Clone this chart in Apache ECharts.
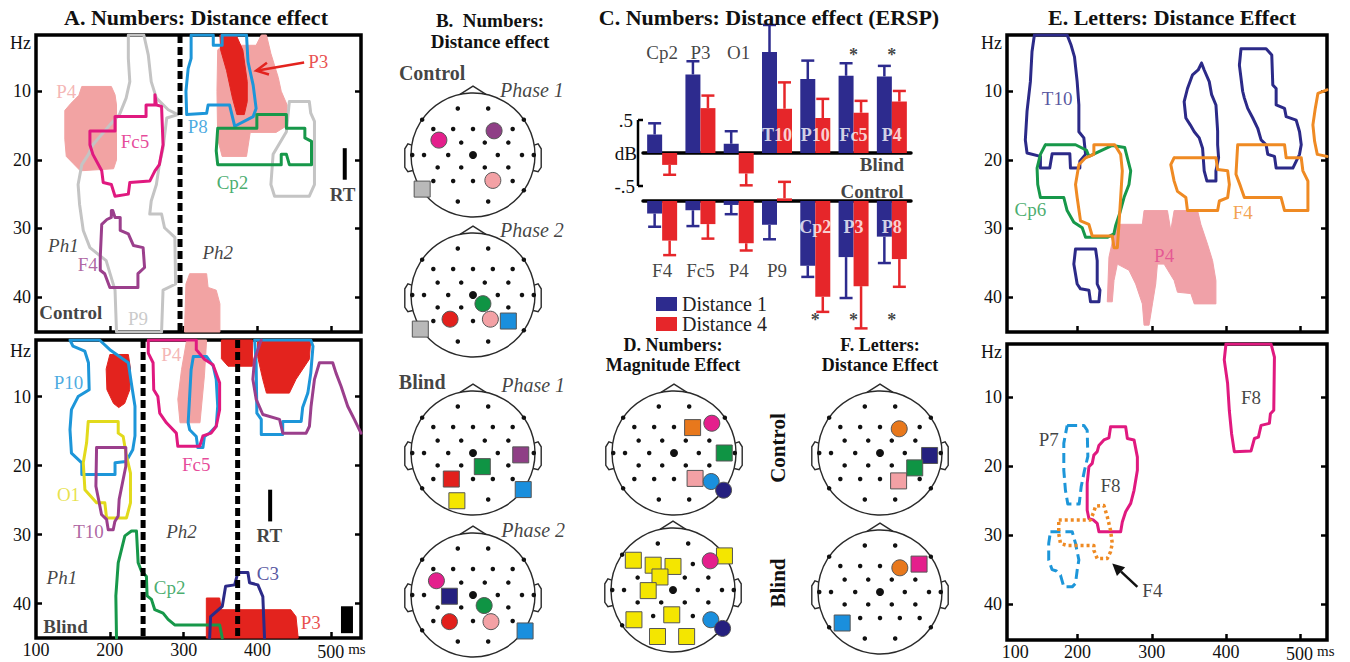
<!DOCTYPE html>
<html><head><meta charset="utf-8">
<script src="https://cdn.jsdelivr.net/npm/echarts@6.0.0/dist/echarts.min.js"></script>
<style>html,body{margin:0;padding:0;background:#fff;}#c{width:1350px;height:662px;}</style>
</head><body><div id="c"></div>
<script>
// ================= DATA =================
// axis ticks / labels
const HZ_TICKS = [10, 20, 30, 40];
const X_TICKS = [200, 300, 400, 500];
const A_X_LABEL_VALUES = [100, 200, 300, 400, 500];
const E_X_LABEL_VALUES = [116, 200, 300, 400, 500];
const X_LABEL_TEXT = ['100', '200', '300', '400', '500'];

// ---- Panel A, Control (ms, Hz) ----
const A1_PHASE_LINES = [295];
const A1_RT = [[518, 18.3], [518, 22.9]];
const A1_P4_FILL = [
  [[162,9.3],[202,9.3],[207,10.5],[209,12],[209,20],[205,21.3],[160,21.6],[150,20.5],[141,19.5],[139,17],[139,12.8],[147,11.8],[158,10.6]],
  [[346,4],[352,3.3],[398,3.3],[405,1.8],[412,1.8],[418,4.5],[428,8],[432,10],[440,12],[440,15],[425,16],[390,16],[385,19.5],[352,19.5],[346,17],[345,10]],
  [[301,45.1],[303,38.1],[308,36.6],[331,36.6],[333,38.6],[344,39.0],[349,41],[349,45.1]]
];
const A1_P3_FILL = [[[349,1.8],[371,1.8],[380,4],[386,8.6],[386,11.5],[382,13.4],[372,13.4],[366,11],[358,7],[350,4]]];
const A1_P9 = [
  [[225,1.8],[246,1.8],[252,4.7],[256,8.6],[263,11.0],[279,12.7],[292,13.4],[277,13.9],[272,18.3],[267,20.7],[263,23.6],[256,26.0],[254,27.9],[270,27.9],[274,29.9],[288,31.3],[289,38.1],[272,39.0],[270,45.1],[209,45.1],[207,39.0],[195,34.7],[173,32.8],[164,30.3],[159,26.5],[157,23.6],[162,20.7],[171,19.2],[177,17.8],[200,14.9],[213,13.4],[222,11.0],[227,8.6],[225,5.2]],
  [[443,11.5],[470,11.5],[472,13.2],[477,14.4],[477,23.6],[470,25.3],[423,25.3],[418,23.6],[421,19.2],[439,15.9]]
];
const A1_FC5 = [[[207,13.7],[249,13.7],[249,12],[261,12],[261,10.5],[263,12],[270,12.2],[272,17.8],[267,20.7],[261,21.6],[254,23.1],[227,23.3],[225,25],[207,25.3],[202,23.6],[191,23.3],[189,21.6],[177,19.2],[173,17.8],[173,15.8],[207,15.8]]];
const A1_F4 = [[[202,27.4],[204,27.4],[207,28.4],[214,28.4],[214,30.3],[225,30.8],[232,32.5],[245,32.8],[247,35.7],[238,36.6],[238,38.6],[200,38.6],[193,36.6],[187,36.1],[187,34.2],[189,29.4],[196,28.7],[202,28.4]]];
const A1_P8 = [[[310,1.8],[340,1.8],[340,3.3],[352,3.3],[352,1.8],[385,1.8],[387,5.7],[394,9.1],[398,12.5],[394,13.7],[369,15.1],[362,12],[333,12],[331,13.2],[304,13.4],[303,10],[306,6.7],[310,5.2]]];
const A1_CP2 = [[[346,15.4],[399,15.4],[399,13.4],[439,13.4],[439,15.4],[464,15.4],[464,16.8],[473,17.3],[473,20.7],[443,20.7],[439,19.2],[432,19.2],[432,20.7],[346,20.7],[344,18.7]]];
const A1_P3_ARROW = [[463, 5.8], [398, 7.0]];
const A1_TEXT = [[141,10.0,'P4'],[234,17.3,'Fc5'],[170,35.2,'F4'],[238,43.2,'P9'],[319,15.1,'P8'],[366,23.3,'Cp2'],[482,5.7,'P3'],[137,32.5,'Ph1'],[346,33.5,'Ph2'],[147,42.2,'Control'],[515,25.0,'RT']];

// ---- Panel A, Blind ----
const A2_PHASE_LINES = [245, 373];
const A2_RT = [[417, 23.5], [417, 28.1]];
const A2_RT_BLOCK = [[521, 40.4], [521, 44.3]];
const A2_P3_FILL = [
  [[200,3.9],[225,3.9],[228,6],[227,9],[220,11],[212,11.6],[205,11],[196,9],[195,6]],
  [[351,1.8],[393,1.8],[393,5.6],[360,5.6],[351,4.5]],
  [[400,1.8],[472,1.8],[470,4.6],[452,7.5],[443,9.5],[412,9.5],[407,7.5],[400,4.2]],
  [[330.6,45],[330.6,39.2],[348.6,39.2],[351,40.9],[445,40.9],[452,41.9],[455,45]]
];
const A2_P4_FILL = [[[304,1.8],[331,1.8],[328,7.0],[322,13.8],[295,13.8],[292,10.4],[297,6.1]]];
const A2_P10 = [
  [[146,1.8],[150,2.7],[166,3.4],[171,5.1],[172,9.0],[157,10.0],[148,11.9],[146,14.8],[148,18.2],[162,19.6],[162,21.3],[207,21.3],[207,19.6],[222,19.4],[231,17.7],[234,15.7],[234,11.4],[229,8.0],[225,5.1],[200,3.2],[186,1.8]],
  [[313,4.2],[331,4.2],[340,5.6],[344,7.5],[346,11.4],[344,14.3],[335,15.3],[328,15.8],[326,17.4],[319,17.4],[317,15.8],[308,14.8],[306,13.8],[308,10.0],[310,6.1]],
  [[396,1.8],[398,5.1],[399,12.4],[405,13.3],[405,15.5],[434,15.5],[434,13.6],[459,13.6],[461,11.6],[468,9.5],[472,6.6],[475,2.7],[472,1.8]]
];
const A2_FC5 = [[[252,1.8],[252,3.7],[258.5,5.1],[259.4,9.0],[265,10.0],[267.5,12.4],[276.6,13.8],[290,15.3],[292,17.2],[321.6,17.2],[326,15.7],[337,15.3],[344,14.3],[348.6,11.9],[348.6,8.0],[339.6,5.4],[328,4.6],[317,3.2],[317,1.8]]];
const A2_O1 = [[[170.7,13.6],[211.3,13.6],[211.3,15.3],[218,15.8],[222.5,18.6],[227.9,21.1],[227.9,25.4],[222.5,27.6],[195.5,27.6],[193.2,25.4],[182,25.4],[166.2,23.5],[164,19.6],[168.5,16.7]]];
const A2_T10 = [[[182,17.4],[221.6,17.4],[221.6,20.1],[217.1,22.5],[212.6,24.9],[211.3,27.3],[206.8,28.1],[204.5,29.3],[197.8,29.3],[195.5,27.8],[188.7,27.1],[185.6,25.4],[181.1,23.0]]];
const A2_T10_OPEN = [[[404.9,1.8],[395.9,4.6],[393.6,7.5],[398.1,10.4],[407.1,12.6],[429.7,13.3],[434.2,15.3],[465.7,15.3],[470.2,14.3],[472.4,11.4],[477,7.5],[483.7,5.1],[501.7,5.1],[506.2,6.6],[513,8.5],[522,11.4],[531,13.3],[540,15.3]]];
const A2_CP2_OPEN = [[[209,45],[208.1,38.9],[211.3,34.1],[220.3,30.2],[229.3,29.5],[236,29.5],[238.3,34.1],[242.8,35.3],[249.5,36.1],[250.4,38.9],[256.3,39.4],[260.8,40.9],[272,41.4],[278.8,42.3],[287.8,43.1],[348.6,43.1],[352.2,45]]];
const A2_C3_OPEN = [[[335.1,45],[336.4,41.9],[352.2,40.4],[356.7,37.5],[368.9,37.3],[373.4,35.5],[386.9,35.5],[389.1,37.0],[400.4,37.3],[407.1,39.0],[409.4,45]]];
const A2_TEXT = [[144,8.0,'P10'],[283,3.9,'P4'],[317,19.9,'Fc5'],[144,24.2,'O1'],[171,29.5,'T10'],[281,37.7,'Cp2'],[414,35.6,'C3'],[472,42.8,'P3'],[135,36.3,'Ph1'],[297,29.5,'Ph2'],[416,30.2,'RT'],[140,43.3,'Blind']];

// ---- Panel C, ERSP (dB) ----
const C_BLIND_CATS = ['Cp2','P3','O1','T10','P10','Fc5','P4'];
const C_BLIND_D1 = [0.28, 1.19, 0.14, 1.53, 1.12, 1.17, 1.16];
const C_BLIND_D1_ERR = [0.45, 1.39, 0.33, 1.94, 1.40, 1.36, 1.32];
const C_BLIND_D4 = [-0.18, 0.68, -0.31, 0.67, 0.53, 0.61, 0.78];
const C_BLIND_D4_ERR = [-0.33, 0.87, -0.49, 1.07, 0.82, 0.79, 0.94];
const C_BLIND_NAME_AT = [1.53, 1.53, 1.53, 0.27, 0.27, 0.27, 0.27];
const C_BLIND_STAR_AT = [null, null, null, null, null, 1.48, 1.48];
const C_CTRL_CATS = ['F4','Fc5','P4','P9','Cp2','P3','P8'];
const C_CTRL_D1 = [-0.19, -0.14, -0.06, -0.36, -0.98, -0.85, -0.54];
const C_CTRL_D1_ERR = [-0.39, -0.38, -0.20, -0.58, -1.15, -1.47, -0.94];
const C_CTRL_D4 = [-0.60, -0.35, -0.64, 0.04, -1.45, -1.29, -0.88];
const C_CTRL_D4_ERR = [-0.82, -0.57, -0.75, 0.29, -1.68, -1.93, -1.30];
const C_CTRL_NAME_AT = [-1.05, -1.05, -1.05, -1.05, -0.39, -0.39, -0.39];
const C_CTRL_STAR_AT = [null, null, null, null, -1.80, -1.80, -1.80];
const C_DB_SCALE = [0.5, -0.5];
const C_BLIND_TEXT = [[5.74, -0.18, 'Blind']];
const C_CTRL_TEXT = [[5.48, 0.14, 'Control']];
const C_SERIES_NAMES = ['Distance 1', 'Distance 4'];

// ---- Panel E, Letters (ms, Hz) ----
const E1_NAVY = [
  [[141.9,1.8],[186,1.8],[191.4,3.3],[195.9,5.0],[199.5,8.6],[201.8,12.0],[201.8,15.9],[208.5,16.8],[210.8,19.2],[203.1,20.2],[203.1,21.2],[190.5,21.2],[189.6,19.1],[165.8,19.1],[162.6,21.2],[150,21.2],[150,19.5],[132,19.0],[129.7,17.1],[132,12.9],[136.5,8.6],[138.7,4.2]],
  [[367,5.9],[370.6,6.9],[377.4,8.6],[380.6,10.5],[386.4,12.0],[388.7,15.8],[388.7,17.8],[390,19.7],[386.4,21.6],[386.4,23.1],[374.3,23.1],[370.6,21.6],[368.4,18.3],[363.9,16.8],[357.2,15.9],[351.8,14.9],[345.9,13.9],[343.6,11.5],[348.1,9.6],[354.9,7.6],[362.5,6.9]],
  [[420.2,3.8],[454,3.8],[461.6,4.7],[463,9.1],[467.5,9.6],[467.5,12.0],[478.8,12.5],[481,13.7],[494.5,14.2],[499,15.9],[501.3,17.8],[499,19.2],[490,21.2],[467.5,21.2],[465.3,19.5],[456.2,19.2],[454,17.8],[447.2,17.1],[442.7,15.4],[436,13.9],[429.2,12.5],[424.7,11.0],[422.4,10.0],[418,6.2]],
  [[197.3,33.0],[224.3,33.0],[226.5,34.7],[226.5,38.1],[230.2,39.0],[228.8,40.7],[217.5,40.7],[215.3,39.0],[204,38.8],[199.5,38.1],[195,35.2]]
];
const E1_CP6 = [[[156.7,17.8],[197.3,17.8],[212.1,18.6],[215.3,19.5],[246.8,17.9],[263.5,18.2],[267.1,19.7],[271.6,21.6],[269.3,23.6],[262.6,25.5],[257.1,27.7],[251.3,29.6],[249,30.8],[240,31.3],[210.8,31.3],[206.3,29.9],[195,29.1],[186,27.4],[181.5,25.5],[150,25.5],[146.4,23.6],[145.5,21.2],[150,19.2]]];
const E1_F4 = [
  [[222,17.8],[250,17.8],[258.1,19.2],[260.3,21.6],[258.1,25.5],[255.8,29.4],[253.6,32.8],[249.1,32.8],[246.8,31.1],[219.8,31.1],[215.3,29.4],[204,28.9],[199.5,25.5],[197.3,23.6],[201.8,20.7],[210.8,19.7],[222,19.2]],
  [[330.1,19.7],[386.4,19.7],[388.7,21.4],[402.2,21.6],[404.5,23.6],[402.2,25.5],[391,26.0],[388.7,27.4],[348.1,27.4],[345.9,25.5],[334.6,24.6],[330.1,23.1],[325.6,20.7]],
  [[415.7,17.8],[478.8,17.8],[481,19.7],[501.3,19.7],[503.5,21.6],[510.3,23.1],[510.3,27.4],[478.8,27.4],[474.2,25.5],[424.7,25.5],[419.3,23.8],[413.4,22.1]]
];
const E1_F4_OPEN = [[[536,9.8],[523.8,10.3],[520.2,12.5],[517,14.9],[519.3,17.3],[522.9,19.2],[536,19.5]]];
const E1_P4_FILL = [[[251.3,29.4],[287.3,29.4],[289.6,27.4],[321.1,27.4],[325.6,30.3],[330.1,27.4],[361.7,27.4],[366.1,29.4],[375.1,32.3],[381.9,34.7],[386.4,37.6],[386.4,41.0],[357.2,41.0],[352.6,39.5],[334.6,39.3],[330.1,37.6],[316.6,35.2],[307.6,35.2],[305.3,38.1],[300.9,41.0],[296.3,44.1],[289.6,44.1],[287.3,41.0],[278.3,38.1],[269.3,36.1],[253.6,35.2],[249.1,37.6],[246.8,40.7],[240.1,40.7],[242.3,34.2],[248.2,31.3]]];
const E1_TEXT = [[172.5,11.0,'T10'],[136.5,27.2,'Cp6'],[316.6,34.0,'P4'],[422.5,27.7,'F4']];

const E2_F8 = [
  [[399.9,2.3],[460.7,2.3],[465.2,4.2],[464.3,11.9],[459.8,12.4],[458.4,13.8],[447.2,14.1],[443.6,15.8],[438.2,16.0],[433.7,17.8],[411.2,17.9],[407.5,15.3],[404.4,11.9],[402.1,8.0],[397.6,4.6]],
  [[244.5,14.3],[264.8,14.3],[267.1,16.0],[276.1,16.2],[280.6,18.7],[280.6,20.6],[276.1,23.5],[271.6,25.4],[264.8,26.6],[260.3,28.1],[258.1,29.5],[228.8,29.5],[226.5,28.3],[221.1,27.8],[215.3,27.6],[213,26.4],[213,22.5],[215.3,20.1],[219.8,19.6],[222,18.4],[226.5,17.9],[228.8,17.0],[235.5,16.2],[242.3,15.9]]
];
const E2_P7 = [
  [[186,14.1],[208.5,14.1],[213,14.8],[213.9,18.6],[209.4,20.6],[204.9,23.0],[202.2,25.5],[186.9,25.5],[183.7,23.5],[181.5,20.6],[181.5,16.7]],
  [[163.5,29.5],[192.8,29.5],[197.3,31.2],[201.8,33.6],[199.5,35.1],[197.3,37.0],[192.8,37.5],[181.5,37.5],[177,35.8],[171.6,35.2],[165.7,35.0],[161.2,33.6],[161.2,31.2]]
];
const E2_F4 = [[[174.7,27.8],[217.5,27.8],[222,26.6],[224.3,25.8],[235.5,25.7],[240,27.3],[244.5,29.3],[246.8,31.2],[244.5,32.4],[240,33.4],[226.5,33.4],[222,32.2],[222,31.5],[186,31.5],[177,31.2],[174.7,29.8]]];
const E2_F4_ARROW = [[280.6, 37.5], [246.8, 34.1]];
const E2_TEXT = [[433.7,10.0,'F8'],[244.5,22.8,'F8'],[161.2,16.2,'P7'],[300.8,38.0,'F4']];

// ---- Scalp maps (unit head, x right, y toward back) ----
const ELECTRODES = [
  [-0.245,-0.75],[0.245,-0.75],[-0.82,-0.57],[0.82,-0.57],
  [-0.64,-0.42],[-0.32,-0.42],[0,-0.42],[0.32,-0.42],[0.64,-0.42],
  [-0.57,-0.2],[-0.19,-0.2],[0.19,-0.2],[0.57,-0.2],
  [-0.98,0],[-0.79,0],[-0.4,0],[0.4,0],[0.79,0],[0.98,0],
  [-0.57,0.2],[-0.19,0.2],[0.19,0.2],[0.57,0.2],
  [-0.64,0.42],[-0.32,0.42],[0,0.42],[0.32,0.42],[0.64,0.42],
  [-0.82,0.57],[0.82,0.57],[-0.245,0.75],[0.245,0.75]
];
const VERTEX = [[0, 0]];
// [x, y, shape (s=square, c=circle), group]
const B1_MARKERS = [[-0.55,-0.24,'c','magenta'],[0.34,-0.39,'c','purple'],[0.32,0.41,'c','pink'],[-0.82,0.55,'s','gray']];
const B2_MARKERS = [[0.16,0.14,'c','green'],[-0.37,0.39,'c','red'],[0.28,0.39,'c','pink'],[0.57,0.42,'s','blue'],[-0.85,0.55,'s','gray']];
const B3_MARKERS = [[0.77,0.03,'s','purple'],[0.15,0.22,'s','green'],[-0.35,0.42,'s','red'],[-0.26,0.77,'s','yellow'],[0.81,0.59,'s','blue']];
const B4_MARKERS = [[-0.59,-0.23,'c','magenta'],[-0.38,0.02,'s','navy'],[0.18,0.17,'c','green'],[-0.38,0.43,'c','red'],[0.29,0.43,'c','pink'],[0.84,0.58,'s','blue']];
const D1_MARKERS = [[0.3,-0.41,'s','orange'],[0.61,-0.48,'c','magenta'],[0.81,0,'s','green'],[0.34,0.41,'s','pink'],[0.6,0.46,'c','blue'],[0.8,0.6,'c','navy']];
const D2_MARKERS = [[-0.64,-0.48,'s','yellow'],[-0.32,-0.4,'s','yellow'],[0,-0.38,'s','yellow'],[-0.21,-0.21,'s','yellow'],[-0.4,0.01,'s','yellow'],[-0.63,0.48,'s','yellow'],[-0.02,0.4,'s','yellow'],[-0.25,0.75,'s','yellow'],[0.22,0.75,'s','yellow'],[0.83,-0.55,'s','yellow'],[0.6,-0.47,'c','magenta'],[0.61,0.48,'c','blue'],[0.8,0.62,'c','navy']];
const F1_MARKERS = [[0.31,-0.39,'c','orange'],[0.8,0.04,'s','navy'],[0.56,0.24,'s','green'],[0.3,0.45,'s','pink']];
const F2_MARKERS = [[0.32,-0.39,'c','orange'],[0.63,-0.45,'s','magenta'],[-0.61,0.5,'s','blue']];
const B1_TEXT = [[-0.66,-1.32,'Control'],[0.95,-1.05,'Phase 1']];
const B2_TEXT = [[0.95,-1.05,'Phase 2']];
const B3_TEXT = [[-0.82,-1.15,'Blind'],[0.97,-1.1,'Phase 1']];
const B4_TEXT = [[0.97,-1.05,'Phase 2']];

// ================= STYLE / LAYOUT =================
const FONT = '"Liberation Serif","Times New Roman",serif';
const COL = {red:'#e3231e', pink:'#f2a3a3', magenta:'#e0197f', blue:'#1d96d9', green:'#17984a', purple:'#9b3f8c',
  gray:'#c4c4c4', yellow:'#e2da1c', navy:'#2c2a88', orange:'#ef8a23', ink:'#111111', epink:'#f0a1a8'};
const MARK = {magenta:'#e41f8c', purple:'#8f3f86', pink:'#f3a1a5', gray:'#b9b9b9', green:'#0f9444', red:'#e2201c',
  blue:'#1a8fdd', yellow:'#f4e600', navy:'#25207f', orange:'#e8781c'};
const BAR_BLUE = '#2d2b8e', BAR_RED = '#e6262a', BAR_W = 15;

const option = {animation:false, backgroundColor:'#ffffff', grid:[], xAxis:[], yAxis:[], series:[], graphic:[]};

function xFormatter(values) {
  return function (v) {
    const i = values.indexOf(v);
    const t = i >= 0 ? X_LABEL_TEXT[i] : String(v);
    return v === 500 ? '{p|}{n|' + t + '}{u|ms}' : '{n|' + t + '}';
  };
}
function tfPanel(s) {
  const gi = option.grid.length;
  option.grid.push({left:s.left, top:s.top, width:s.width, height:s.height, show:true, borderColor:'#000',
    borderWidth:3.5, backgroundColor:'rgba(0,0,0,0)', containLabel:false, outerBoundsMode:'none'});
  const tick = {show:true, inside:true, length:6, lineStyle:{color:'#000', width:2.5}};
  const xi = option.xAxis.length;
  option.xAxis.push({type:'value', gridIndex:gi, min:s.xmin, max:s.xmax, axisLine:{show:false}, splitLine:{show:false},
    axisTick:Object.assign({customValues:X_TICKS}, tick),
    axisLabel:{show:s.xlabels, customValues:s.xlv, formatter:xFormatter(s.xlv), margin:3,
      rich:{p:{width:20, fontSize:18}, n:{fontFamily:FONT, fontSize:18, color:'#111'},
            u:{fontFamily:FONT, fontSize:15, color:'#111', verticalAlign:'top', padding:[0,0,6,4]}}}});
  const yi = option.yAxis.length;
  option.yAxis.push({type:'value', gridIndex:gi, min:s.ymin, max:s.ymax, inverse:true, axisLine:{show:false}, splitLine:{show:false},
    axisTick:Object.assign({customValues:HZ_TICKS}, tick),
    axisLabel:{show:true, customValues:[s.hz].concat(HZ_TICKS), formatter:v => (v === s.hz ? 'Hz' : String(v)),
      fontFamily:FONT, fontSize:18, color:'#111', margin:5}});
  option.yAxis.push({type:'value', gridIndex:gi, position:'right', min:s.ymin, max:s.ymax, inverse:true,
    axisLine:{show:false}, splitLine:{show:false}, axisTick:Object.assign({customValues:HZ_TICKS}, tick), axisLabel:{show:false}});
  return {xi, yi, ymin:s.ymin, ymax:s.ymax};
}
function outlines(ax, polys, color, o) {
  o = o || {};
  polys.forEach(pts => {
    option.series.push({type:'line', xAxisIndex:ax.xi, yAxisIndex:ax.yi, data:o.open ? pts : pts.concat([pts[0]]),
      symbol:'none', showSymbol:false, silent:true, clip:true, z:o.z || 4,
      lineStyle:{color, width:o.width || 3, type:o.type || 'solid', join:'round', cap:o.cap || 'round'}});
  });
}
function fills(ax, polys, color, z) {
  polys.forEach(pts => {
    option.series.push({type:'custom', xAxisIndex:ax.xi, yAxisIndex:ax.yi, silent:true, z:z || 2, data:[pts[0]],
      renderItem:(p, api) => ({type:'polygon', shape:{points:pts.map(q => api.coord(q))},
        style:{fill:color, stroke:color, lineWidth:1}})});
  });
}
function vbar(ax, pts, width, dash) {
  option.series.push({type:'line', xAxisIndex:ax.xi, yAxisIndex:ax.yi, data:pts, symbol:'none', silent:true, z:5,
    lineStyle:{color:'#000', width, type:dash || 'solid', cap:'butt'}});
}
function phaseLines(ax, xs) {
  xs.forEach(x => vbar(ax, [[x, ax.ymin], [x, ax.ymax]], 5, [8, 4]));
}
function arrow(ax, seg, color, open) {
  option.series.push({type:'custom', xAxisIndex:ax.xi, yAxisIndex:ax.yi, silent:true, z:7,
    data:[[seg[0][0], seg[0][1], seg[1][0], seg[1][1]]],
    renderItem:(p, api) => {
      const a = api.coord([api.value(0), api.value(1)]), b = api.coord([api.value(2), api.value(3)]);
      const ang = Math.atan2(b[1] - a[1], b[0] - a[0]), L = 12, W = 6;
      const bx = b[0] - L * Math.cos(ang), by = b[1] - L * Math.sin(ang);
      const h1 = [bx + W * Math.sin(ang), by - W * Math.cos(ang)], h2 = [bx - W * Math.sin(ang), by + W * Math.cos(ang)];
      const st = {stroke:color, lineWidth:2.5, fill:'none'};
      return {type:'group', children:[
        {type:'line', shape:{x1:a[0], y1:a[1], x2:open ? b[0] : bx, y2:open ? b[1] : by}, style:st},
        open ? {type:'polyline', shape:{points:[h1, b, h2]}, style:st}
             : {type:'polygon', shape:{points:[b, h1, h2]}, style:{fill:color}}]};
    }});
}
function labelStyle(text, color, size) {
  const s = {show:true, position:'inside', color:color || COL.ink, fontFamily:FONT, fontSize:size || 19, fontWeight:'normal', fontStyle:'normal'};
  if (/^Ph/.test(text) || /^Phase/.test(text)) { s.fontStyle = 'italic'; s.color = COL.ink; }
  if (text === 'Control' || text === 'Blind' || text === 'RT') { s.fontWeight = 'bold'; s.color = COL.ink; }
  return s;
}
function texts(ax, items, colors, size) {
  option.series.push({type:'scatter', xAxisIndex:ax.xi, yAxisIndex:ax.yi, silent:true, z:8, symbol:'circle', symbolSize:1,
    itemStyle:{color:'rgba(0,0,0,0)'}, clip:false,
    data:items.map(it => ({value:[it[0], it[1]], name:it[2], label:labelStyle(it[2], colors[it[2]], size)})),
    label:{show:true, formatter:p => p.name}});
}

// ---------- Panel A ----------
const A1 = tfPanel({left:36, top:35, width:325, height:297, xmin:100, xmax:540, ymin:1.8, ymax:45.1, xlabels:false, xlv:A_X_LABEL_VALUES, hz:3.0});
fills(A1, A1_P4_FILL, COL.pink, 1);
fills(A1, A1_P3_FILL, COL.red, 2);
outlines(A1, A1_P9, COL.gray, {z:3});
outlines(A1, A1_FC5, COL.magenta);
outlines(A1, A1_F4, COL.purple);
outlines(A1, A1_P8, COL.blue);
outlines(A1, A1_CP2, COL.green);
phaseLines(A1, A1_PHASE_LINES);
vbar(A1, A1_RT, 4);
arrow(A1, A1_P3_ARROW, COL.red, true);
texts(A1, A1_TEXT, {P4:COL.pink, Fc5:COL.magenta, F4:COL.purple, P9:'#bdbdbd', P8:COL.blue, Cp2:COL.green, P3:COL.red});

const A2 = tfPanel({left:36, top:340, width:325, height:298, xmin:100, xmax:540, ymin:1.8, ymax:45.0, xlabels:true, xlv:A_X_LABEL_VALUES, hz:3.4});
fills(A2, A2_P3_FILL, COL.red, 1);
fills(A2, A2_P4_FILL, COL.pink, 2);
outlines(A2, A2_P10, COL.blue);
outlines(A2, A2_FC5, COL.magenta);
outlines(A2, A2_O1, COL.yellow);
outlines(A2, A2_T10, COL.purple);
outlines(A2, A2_T10_OPEN, COL.purple, {open:true});
outlines(A2, A2_CP2_OPEN, COL.green, {open:true});
outlines(A2, A2_C3_OPEN, COL.navy, {open:true});
phaseLines(A2, A2_PHASE_LINES);
vbar(A2, A2_RT, 4);
vbar(A2, A2_RT_BLOCK, 12);
texts(A2, A2_TEXT, {P10:COL.blue, P4:COL.pink, Fc5:COL.magenta, O1:COL.yellow, T10:COL.purple, Cp2:COL.green, C3:COL.navy, P3:COL.red});

// ---------- Panel E ----------
const E1 = tfPanel({left:1007, top:35, width:320, height:297, xmin:105, xmax:536, ymin:1.8, ymax:45.1, xlabels:false, xlv:E_X_LABEL_VALUES, hz:3.0});
fills(E1, E1_P4_FILL, COL.epink, 1);
outlines(E1, E1_NAVY, COL.navy);
outlines(E1, E1_CP6, COL.green);
outlines(E1, E1_F4, COL.orange);
outlines(E1, E1_F4_OPEN, COL.orange, {open:true});
texts(E1, E1_TEXT, {T10:COL.navy, Cp6:COL.green, P4:'#e2468f', F4:COL.orange});

const E2 = tfPanel({left:1007, top:344, width:320, height:296, xmin:105, xmax:536, ymin:2.3, ymax:45.2, xlabels:true, xlv:E_X_LABEL_VALUES, hz:3.4});
outlines(E2, E2_F8, COL.magenta);
outlines(E2, E2_P7, COL.blue, {type:[10, 5], cap:'butt'});
outlines(E2, E2_F4, COL.orange, {type:[3, 3], cap:'butt', width:3.5});
arrow(E2, E2_F4_ARROW, COL.ink, false);
texts(E2, E2_TEXT, {});

// ---------- Panel C ----------
function cPanel(top, height, ymin, ymax, cats, d1, d1e, d4, d4e, nameAt, starAt, extraText) {
  const gi = option.grid.length;
  option.grid.push({left:643, top, width:268, height, show:false, containLabel:false, outerBoundsMode:'none'});
  const xc = option.xAxis.length;
  option.xAxis.push({type:'category', gridIndex:gi, data:cats, axisLine:{show:true, onZero:true, lineStyle:{color:'#000', width:3.5}},
    axisTick:{show:false}, axisLabel:{show:false}, splitLine:{show:false}});
  const xv = option.xAxis.length;
  option.xAxis.push({type:'value', gridIndex:gi, min:-0.5, max:6.5, show:false});
  const yi = option.yAxis.length;
  option.yAxis.push({type:'value', gridIndex:gi, min:ymin, max:ymax, axisLine:{show:false}, axisTick:{show:false},
    axisLabel:{show:false}, splitLine:{show:false}});
  option.series.push({type:'bar', name:C_SERIES_NAMES[0], xAxisIndex:xc, yAxisIndex:yi, data:d1, barWidth:BAR_W, barGap:'0%', z:3, silent:true, itemStyle:{color:BAR_BLUE}});
  option.series.push({type:'bar', name:C_SERIES_NAMES[1], xAxisIndex:xc, yAxisIndex:yi, data:d4, barWidth:BAR_W, barGap:'0%', z:3, silent:true, itemStyle:{color:BAR_RED}});
  [[d1, d1e, BAR_BLUE, -1], [d4, d4e, BAR_RED, 1]].forEach(([v, e, c, side]) => {
    option.series.push({type:'custom', xAxisIndex:xv, yAxisIndex:yi, silent:true, z:2,
      data:v.map((val, i) => [i, val, e[i]]),
      renderItem:(p, api) => {
        const a = api.coord([api.value(0), api.value(1)]), b = api.coord([api.value(0), api.value(2)]);
        const x = a[0] + side * BAR_W / 2, st = {stroke:c, lineWidth:2.5};
        return {type:'group', children:[
          {type:'line', shape:{x1:x, y1:a[1], x2:x, y2:b[1]}, style:st},
          {type:'line', shape:{x1:x - 6.5, y1:b[1], x2:x + 6.5, y2:b[1]}, style:st}]};
      }});
  });
  const items = cats.map((c, i) => {
    const inside = Math.abs(nameAt[i]) < Math.abs(d1[i]) && Math.sign(nameAt[i]) === Math.sign(d1[i]);
    return {value:[i, nameAt[i]], name:c, label:{show:true, position:'inside', color:inside ? '#fff' : COL.ink, fontFamily:FONT,
      fontSize:inside ? 18 : 19, fontWeight:inside ? 'bold' : 'normal'}};
  });
  starAt.forEach((s, i) => { if (s !== null) items.push({value:[i, s], name:'*', label:{show:true, position:'inside', color:COL.ink, fontFamily:FONT, fontSize:18, fontWeight:'bold'}}); });
  extraText.forEach(t => items.push({value:[t[0], t[1]], name:t[2], label:{show:true, position:'inside', color:COL.ink, fontFamily:FONT, fontSize:19, fontWeight:'bold'}}));
  option.series.push({type:'scatter', xAxisIndex:xv, yAxisIndex:yi, silent:true, z:8, symbolSize:1, clip:false,
    itemStyle:{color:'rgba(0,0,0,0)'}, data:items, label:{show:true, formatter:p => p.name}});
  return {xv, yi};
}
const CB = cPanel(21, 178.2, -0.7, 2.0, C_BLIND_CATS, C_BLIND_D1, C_BLIND_D1_ERR, C_BLIND_D4, C_BLIND_D4_ERR, C_BLIND_NAME_AT, C_BLIND_STAR_AT, C_BLIND_TEXT);
cPanel(168, 165, -2.0, 0.5, C_CTRL_CATS, C_CTRL_D1, C_CTRL_D1_ERR, C_CTRL_D4, C_CTRL_D4_ERR, C_CTRL_NAME_AT, C_CTRL_STAR_AT, C_CTRL_TEXT);
// dB scale bar
option.series.push({type:'custom', xAxisIndex:CB.xv, yAxisIndex:CB.yi, silent:true, z:6, data:[[0, 0]],
  renderItem:(p, api) => {
    const x = api.coord([-0.5, 0])[0] - 5;
    const yT = api.coord([0, C_DB_SCALE[0]])[1], y0 = api.coord([0, 0])[1], yB = api.coord([0, C_DB_SCALE[1]])[1];
    const ln = {stroke:'#000', lineWidth:2.5};
    const tf = t => ({text:t, font:'19px ' + FONT, fill:'#111', align:'right', verticalAlign:'middle', textAlign:'right', textVerticalAlign:'middle'});
    return {type:'group', children:[
      {type:'line', shape:{x1:x, y1:yT, x2:x, y2:yB}, style:ln},
      {type:'line', shape:{x1:x, y1:yT, x2:x + 5, y2:yT}, style:ln},
      {type:'line', shape:{x1:x, y1:yB, x2:x + 5, y2:yB}, style:ln},
      {type:'text', x:x - 5, y:yT, style:tf('.5')},
      {type:'text', x:x - 1, y:y0, style:tf('dB')},
      {type:'text', x:x - 3, y:yB, style:tf('-.5')}]};
  }});
option.legend = {data:C_SERIES_NAMES, orient:'vertical', left:651, top:289, itemWidth:21, itemHeight:14, itemGap:0,
  icon:'rect', selectedMode:false, textStyle:{fontFamily:FONT, fontSize:20, color:'#222', lineHeight:20}};

// ---------- Scalp maps ----------
function head(cx, cy, markers, txt) {
  const R = 62, S = 1.4;
  const gi = option.grid.length;
  option.grid.push({left:cx - S * R, top:cy - S * R, width:2 * S * R, height:2 * S * R, show:false, containLabel:false, outerBoundsMode:'none'});
  const xi = option.xAxis.length;
  option.xAxis.push({type:'value', gridIndex:gi, min:-S, max:S, show:false});
  const yi = option.yAxis.length;
  option.yAxis.push({type:'value', gridIndex:gi, min:-S, max:S, inverse:true, show:false});
  option.series.push({type:'custom', xAxisIndex:xi, yAxisIndex:yi, silent:true, z:2, data:VERTEX,
    renderItem:(p, api) => {
      const c = api.coord([0, 0]), r = api.size([1, 1])[0];
      const P = (x, y) => [c[0] + x * r, c[1] + y * r];
      const st = {stroke:'#2a2a2a', fill:'none', lineWidth:1.4};
      return {type:'group', children:[
        {type:'circle', shape:{cx:c[0], cy:c[1], r}, style:st},
        {type:'polyline', shape:{points:[P(-0.21, -0.977), P(0, -1.11), P(0.21, -0.977)]}, style:st},
        {type:'polyline', shape:{points:[P(-0.988, -0.16), P(-1.05, -0.18), P(-1.1, -0.1), P(-1.1, 0.2), P(-1.05, 0.27), P(-0.97, 0.25)]}, style:st},
        {type:'polyline', shape:{points:[P(0.988, -0.16), P(1.05, -0.18), P(1.1, -0.1), P(1.1, 0.2), P(1.05, 0.27), P(0.97, 0.25)]}, style:st}]};
    }});
  option.series.push({type:'scatter', xAxisIndex:xi, yAxisIndex:yi, silent:true, z:3, data:ELECTRODES, symbolSize:4.5, itemStyle:{color:'#111', opacity:1}});
  option.series.push({type:'scatter', xAxisIndex:xi, yAxisIndex:yi, silent:true, z:3, data:VERTEX, symbolSize:8, itemStyle:{color:'#111', opacity:1}});
  option.series.push({type:'scatter', xAxisIndex:xi, yAxisIndex:yi, silent:true, z:5, data:markers,
    symbol:v => (v[2] === 's' ? 'rect' : 'circle'), symbolSize:16,
    itemStyle:{color:p => MARK[p.data[3]], borderColor:'#555', borderWidth:1, opacity:1}});
  if (txt) texts({xi, yi}, txt, {}, 20);
}
head(473, 155, B1_MARKERS, B1_TEXT);
head(473, 295, B2_MARKERS, B2_TEXT);
head(473, 453, B3_MARKERS, B3_TEXT);
head(473, 595, B4_MARKERS, B4_TEXT);
head(674, 453, D1_MARKERS);
head(673, 590, D2_MARKERS);
head(880, 453, F1_MARKERS);
head(880, 592, F2_MARKERS);

// ---------- titles & free text ----------
function gtext(x, y, text, font, rot) {
  option.graphic.push({type:'text', x, y, rotation:rot || 0, silent:true, z:10,
    style:{text, font, fill:'#111', align:'center', verticalAlign:'middle', textAlign:'center', textVerticalAlign:'middle'}});
}
const TBIG = 'bold 22px ' + FONT, TB = 'bold 18px ' + FONT;
gtext(196, 17, 'A. Numbers: Distance effect', TBIG);
gtext(490, 20, 'B.  Numbers:', 'bold 19px ' + FONT);
gtext(490, 41, 'Distance effect', 'bold 19px ' + FONT);
gtext(769, 17, 'C. Numbers: Distance effect (ERSP)', TBIG);
gtext(673, 345, 'D. Numbers:', TB);
gtext(673, 365, 'Magnitude Effect', TB);
gtext(880, 345, 'F. Letters:', TB);
gtext(880, 365, 'Distance Effect', TB);
gtext(1172, 17, 'E. Letters: Distance Effect', TBIG);
gtext(778, 448, 'Control', 'bold 21px ' + FONT, Math.PI / 2);
gtext(778, 583, 'Blind', 'bold 21px ' + FONT, Math.PI / 2);

const chart = echarts.init(document.getElementById('c'), null, {renderer:'svg'});
chart.setOption(option);
</script></body></html>
